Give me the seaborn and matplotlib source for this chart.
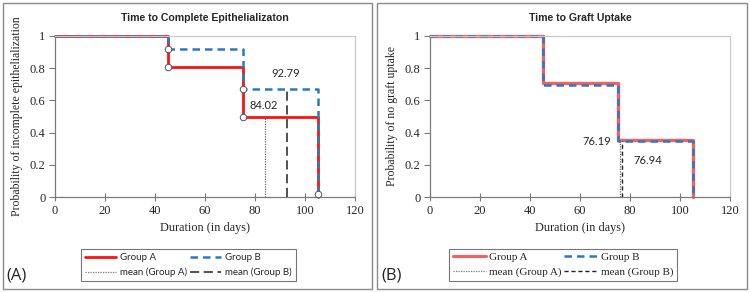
import matplotlib
matplotlib.use("Agg")
import matplotlib.pyplot as plt
import seaborn as sns
import pandas as pd
from matplotlib.patches import Rectangle
from matplotlib.lines import Line2D

# ---- data ----
days = [0, 45, 75, 105]
epi_group_a = [1.0, 0.806, 0.494, 0.0]
epi_group_b = [1.0, 0.92, 0.67, 0.0]
epi_censor_x = [45, 45, 75, 75, 105]
epi_censor_y = [0.92, 0.806, 0.67, 0.494, 0.02]
epi_means = [84.02, 92.79]
epi_mean_heights = [0.494, 0.67]

graft_group_a = [1.0, 0.71, 0.357, 0.0]
graft_group_b = [1.0, 0.696, 0.348, 0.0]
graft_means = [76.19, 76.94]
graft_mean_heights = [0.357, 0.348]

x_ticks = [0, 20, 40, 60, 80, 100, 120]
y_ticks = [0, 0.2, 0.4, 0.6, 0.8, 1.0]
y_tick_labels = ["0", "0.2", "0.4", "0.6", "0.8", "1"]

sns.set_theme(style="white")
plt.rcParams['font.family'] = ['Liberation Serif', 'DejaVu Serif']

fig = plt.figure(figsize=(7.5, 2.92), dpi=100)

# panel borders
fig.patches.append(Rectangle((3/750, 3/292), 369/750, 286/292, transform=fig.transFigure,
                             fill=False, edgecolor='#8a8a8a', lw=1.0))
fig.patches.append(Rectangle((377/750, 3/292), 370/750, 286/292, transform=fig.transFigure,
                             fill=False, edgecolor='#8a8a8a', lw=1.0))

axA = fig.add_axes([55/750, 1 - 197/292, 300/750, 161/292])
axB = fig.add_axes([430/750, 1 - 197/292, 300/750, 161/292])

red_a = '#ff1010'
red_b = '#f26060'
blue = '#2a7ac0'


def style_axes(ax, ylabel, title):
    ax.set_xlim(0, 120)
    ax.set_ylim(0, 1)
    ax.set_xticks(x_ticks)
    ax.set_yticks(y_ticks)
    ax.set_yticklabels(y_tick_labels)
    for s in ['left', 'bottom']:
        ax.spines[s].set_color('#7a7a7a')
        ax.spines[s].set_linewidth(0.9)
    for s in ['top', 'right']:
        ax.spines[s].set_color('#c8c8c8')
        ax.spines[s].set_linewidth(0.9)
    ax.tick_params(axis='x', direction='inout', length=6, width=0.8, color='#7a7a7a',
                   labelsize=9, pad=3, bottom=True)
    ax.tick_params(axis='y', direction='out', length=4, width=0.8, color='#7a7a7a',
                   labelsize=9, pad=3, left=True)
    ax.set_xlabel("Duration (in days)", fontsize=8.8, labelpad=3)
    ax.set_ylabel(ylabel, fontsize=8.5, labelpad=5)
    ax.set_title(title, fontsize=7.6, fontweight='bold', family=['Liberation Sans'], pad=11)
    ax.grid(False)


# ---- Panel A ----
dfA = pd.DataFrame({'day': days, 'A': epi_group_a, 'B': epi_group_b})
sns.lineplot(data=dfA, x='day', y='A', ax=axA, color=red_a, lw=2.0,
             drawstyle='steps-post', estimator=None, sort=False, clip_on=False)
sns.lineplot(data=dfA, x='day', y='B', ax=axA, color=blue, lw=1.8,
             drawstyle='steps-post', estimator=None, sort=False, clip_on=False)
axA.lines[-1].set_dashes([3, 2])
axA.vlines(epi_means[0], 0, epi_mean_heights[0], color='#666666', lw=0.9, linestyles=(0, (1, 1)))
axA.vlines(epi_means[1], 0, epi_mean_heights[1], color='#222222', lw=1.1, linestyles=(0, (6, 3)))
sns.scatterplot(x=epi_censor_x, y=epi_censor_y, ax=axA, color='white', edgecolor='#555555',
                s=22, linewidth=0.7, zorder=5, clip_on=False)
axA.text(83.6, 0.571, f"{epi_means[0]:.2f}", ha='center', va='center', fontsize=8,
         family=['Lato', 'DejaVu Sans'])
axA.text(92.4, 0.764, f"{epi_means[1]:.2f}", ha='center', va='center', fontsize=8,
         family=['Lato', 'DejaVu Sans'])
style_axes(axA, "Probability of incomplete epithelialization", "Time to Complete Epithelializaton")

hA = [Line2D([], [], color=red_a, lw=2.0),
      Line2D([], [], color='#777777', lw=0.9, ls=(0, (1, 1))),
      Line2D([], [], color=blue, lw=1.8, ls=(0, (3, 2))),
      Line2D([], [], color='#222222', lw=1.1, ls=(0, (6, 3)))]
lA = ["Group A", "mean (Group A)", "Group B", "mean (Group B)"]
legA = fig.legend(hA, lA, ncol=2, loc='center', bbox_to_anchor=(188.5/750, 1 - 265/292),
                  frameon=True, fancybox=False, edgecolor='#555555',
                  prop={'family': ['Lato', 'DejaVu Sans'], 'size': 7},
                  handlelength=3.2, handletextpad=0.4, columnspacing=0.3,
                  labelspacing=0.55, borderpad=0.4)
legA.get_frame().set_linewidth(0.8)

# ---- Panel B ----
dfB = pd.DataFrame({'day': days, 'A': graft_group_a, 'B': graft_group_b})
sns.lineplot(data=dfB, x='day', y='A', ax=axB, color=red_b, lw=2.4,
             drawstyle='steps-post', estimator=None, sort=False, clip_on=False)
sns.lineplot(data=dfB, x='day', y='B', ax=axB, color=blue, lw=1.8,
             drawstyle='steps-post', estimator=None, sort=False, clip_on=False)
axB.lines[-1].set_dashes([3, 2])
axB.vlines(graft_means[0], 0, graft_mean_heights[0], color='#666666', lw=0.9, linestyles=(0, (1, 1)))
axB.vlines(graft_means[1], 0, graft_mean_heights[1], color='#222222', lw=1.0, linestyles=(0, (3, 2)))
axB.text(66.8, 0.342, f"{graft_means[0]:.2f}", ha='center', va='center', fontsize=8,
         family=['Lato', 'DejaVu Sans'])
axB.text(87.2, 0.224, f"{graft_means[1]:.2f}", ha='center', va='center', fontsize=8,
         family=['Lato', 'DejaVu Sans'])
style_axes(axB, "Probability of no graft uptake", "Time to Graft Uptake")

hB = [Line2D([], [], color=red_b, lw=2.2),
      Line2D([], [], color='#777777', lw=0.9, ls=(0, (1, 1))),
      Line2D([], [], color=blue, lw=1.8, ls=(0, (3, 2))),
      Line2D([], [], color='#222222', lw=1.0, ls=(0, (3, 2)))]
lB = ["Group A", "mean (Group A)", "Group B", "mean (Group B)"]
legB = fig.legend(hB, lB, ncol=2, loc='center', bbox_to_anchor=(563/750, 1 - 265/292),
                  frameon=True, fancybox=False, edgecolor='#555555',
                  prop={'family': ['Liberation Serif', 'DejaVu Serif'], 'size': 8},
                  handlelength=3.0, handletextpad=0.3, columnspacing=0.2,
                  labelspacing=0.45, borderpad=0.35)
legB.get_frame().set_linewidth(0.8)

fig.text(6/750, 1 - 276/292, "(A)", fontsize=12, va='center', ha='left',
         family=['Open Sans', 'DejaVu Sans'])
fig.text(381/750, 1 - 276/292, "(B)", fontsize=12, va='center', ha='left',
         family=['Open Sans', 'DejaVu Sans'])

fig.savefig("out.png", dpi=100)
